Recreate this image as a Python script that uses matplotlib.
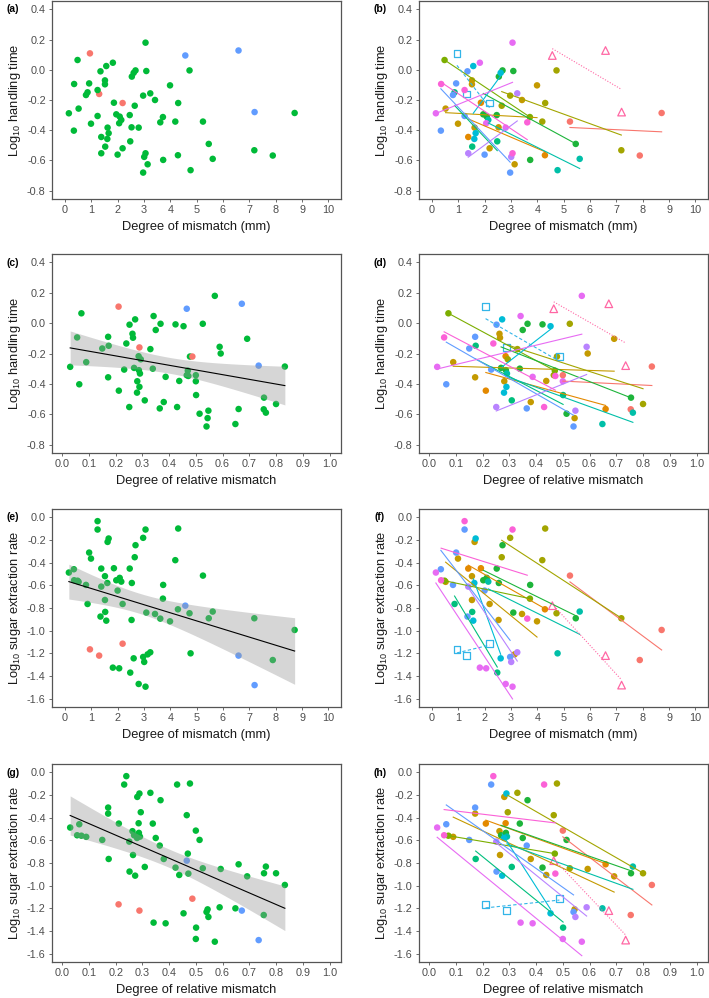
import numpy as np
import matplotlib
matplotlib.use('Agg')
import matplotlib.pyplot as plt
from matplotlib.ticker import MultipleLocator, FormatStrFormatter

plt.rcParams['font.family'] = ['Liberation Sans', 'DejaVu Sans']
plt.rcParams['mathtext.default'] = 'regular'

# species of every observation (J = squares, O = triangles)
species = (['A'] * 3 + ['B'] * 3 + ['C'] * 10 + ['D'] * 6 + ['E'] * 2 +
           ['F'] * 8 + ['G'] * 3 + ['H'] * 3 + ['I'] * 4 + ['J'] * 3 +
           ['K'] * 7 + ['L'] * 3 + ['M'] * 5 + ['N'] * 4 + ['O'] * 3)

# degree of mismatch (mm)
mismatch = [5.24, 7.89, 8.72,
            1.38, 1.86, 4.29,
            0.52, 0.99, 1.52, 1.52, 1.62, 2.19, 2.53, 3.14, 3.42, 3.99,
            2.65, 2.97, 4.19, 4.30, 4.73, 7.19,
            0.48, 3.72,
            1.95, 2.08, 2.46, 2.54, 2.68, 3.09, 3.73, 5.46,
            0.86, 1.53, 2.48,
            2.14, 4.77, 5.61,
            1.57, 1.61, 1.66, 2.61,
            0.95, 1.30, 2.19,
            0.34, 0.80, 0.92, 1.24, 1.35, 2.00, 2.97,
            1.38, 3.01, 3.24,
            0.15, 1.82, 2.06, 2.80, 3.06,
            0.35, 1.24, 3.06, 3.62,
            4.57, 6.59, 7.20]

# degree of relative mismatch
rel_mismatch = [0.500, 0.754, 0.833,
                0.212, 0.286, 0.660,
                0.090, 0.172, 0.263, 0.265, 0.281, 0.380, 0.438, 0.544, 0.593, 0.692,
                0.294, 0.330, 0.466, 0.478, 0.526, 0.800,
                0.072, 0.470,
                0.269, 0.287, 0.339, 0.350, 0.368, 0.424, 0.514, 0.755,
                0.174, 0.309, 0.501,
                0.291, 0.648, 0.762,
                0.273, 0.280, 0.289, 0.454,
                0.211, 0.289, 0.487,
                0.064, 0.150, 0.172, 0.232, 0.252, 0.365, 0.540,
                0.251, 0.547, 0.589,
                0.030, 0.342, 0.387, 0.500, 0.571,
                0.056, 0.240, 0.430, 0.472,
                0.466, 0.672, 0.735]

# log10 handling time
log_ht = [-0.343, -0.568, -0.286,
          -0.445, -0.218, -0.566,
          -0.257, -0.357, -0.070, -0.096, -0.383, -0.520, -0.381, -0.626, -0.200, -0.103,
          -0.238, -0.171, -0.343, -0.220, -0.004, -0.533,
          0.065, -0.313,
          -0.295, -0.310, -0.300, -0.045, -0.004, -0.008, -0.597, -0.491,
          -0.149, -0.509, -0.474,
          -0.332, -0.665, -0.590,
          0.025, -0.458, -0.420, -0.020,
          0.109, -0.160, -0.220,
          -0.403, -0.167, -0.090, -0.306, -0.010, -0.562, -0.681,
          -0.553, -0.577, -0.156,
          -0.288, 0.047, -0.354, -0.383, 0.180,
          -0.094, -0.134, -0.553, -0.348,
          0.095, 0.128, -0.280]

# log10 sugar extraction rate
log_ser = [-0.515, -1.259, -0.994,
           -0.453, -0.450, -0.812,
           -0.570, -0.365, -0.520, -0.730, -0.218, -0.765, -0.906, -1.209, -0.853, -0.918,
           -0.353, -0.182, -0.379, -0.100, -0.847, -0.891,
           -0.560, -0.718,
           -0.556, -0.535, -0.453, -0.580, -0.247, -0.841, -0.597, -0.891,
           -0.765, -0.835, -1.370,
           -0.568, -1.200, -0.832,
           -0.912, -0.580, -0.188, -1.244,
           -1.165, -1.220, -1.115,
           -0.459, -0.597, -0.312, -0.109, -0.876, -0.647, -1.232,
           -0.612, -1.276, -1.191,
           -0.488, -1.326, -1.332, -1.470, -1.494,
           -0.556, -0.035, -0.109, -0.894,
           -0.780, -1.220, -1.480]

species_colors = {'A': '#F8766D', 'B': '#E38900', 'C': '#C49A00', 'D': '#A3A500',
                  'E': '#7CAE00', 'F': '#1DB43A', 'G': '#00BF7D', 'H': '#00BFA8',
                  'I': '#00BCD6', 'J': '#33B5E8', 'K': '#619CFF', 'L': '#B983FF',
                  'M': '#E76BF3', 'N': '#FB61D7', 'O': '#FF67A4'}
group_colors = {'J': '#F8766D', 'O': '#619CFF'}
default_group_color = '#00BA38'

species = np.array(species)
mismatch = np.array(mismatch)
rel_mismatch = np.array(rel_mismatch)
log_ht = np.array(log_ht)
log_ser = np.array(log_ser)

W, H = 709, 998
fig = plt.figure(figsize=(W / 100, H / 100), dpi=100)

# pixel boxes of the panels: (top, bottom) rows and (left, right) columns
rows_px = [(1, 199), (254, 453), (509, 707), (764, 962)]
cols_px = [(52, 341), (419, 708)]

xlab_mm = 'Degree of mismatch (mm)'
xlab_rel = 'Degree of relative mismatch'
ylab_ht = 'Log$_{10}$ handling time'
ylab_ser = 'Log$_{10}$ sugar extraction rate'

panels = [
    ('(a)', mismatch, log_ht, 'mm', 'ht', 'group', False),
    ('(b)', mismatch, log_ht, 'mm', 'ht', 'species', False),
    ('(c)', rel_mismatch, log_ht, 'rel', 'ht', 'group', True),
    ('(d)', rel_mismatch, log_ht, 'rel', 'ht', 'species', False),
    ('(e)', mismatch, log_ser, 'mm', 'ser', 'group', True),
    ('(f)', mismatch, log_ser, 'mm', 'ser', 'species', False),
    ('(g)', rel_mismatch, log_ser, 'rel', 'ser', 'group', True),
    ('(h)', rel_mismatch, log_ser, 'rel', 'ser', 'species', False),
]

T975 = 1.997  # t quantile, df = 65


def add_fit(ax, x, y):
    n = len(x)
    b, a = np.polyfit(x, y, 1)
    resid = y - (a + b * x)
    s = np.sqrt(np.sum(resid ** 2) / (n - 2))
    sxx = np.sum((x - x.mean()) ** 2)
    xs = np.linspace(x.min(), x.max(), 100)
    ys = a + b * xs
    se = s * np.sqrt(1.0 / n + (xs - x.mean()) ** 2 / sxx)
    ax.fill_between(xs, ys - T975 * se, ys + T975 * se, color='#999999',
                    alpha=0.4, lw=0, zorder=3)
    ax.plot(xs, ys, color='black', lw=0.8, zorder=4)


def line_style(sp):
    if sp == 'J':
        return (0, (3, 2))
    if sp == 'O':
        return (0, (1, 1.5))
    return '-'


for i, (lab, x, y, xk, yk, mode, fit) in enumerate(panels):
    r, c = divmod(i, 2)
    l, rt = cols_px[c]
    t, bt = rows_px[r]
    ax = fig.add_axes([l / W, 1 - bt / H, (rt - l) / W, (bt - t) / H])

    if mode == 'group':
        cols = [group_colors.get(s, default_group_color) for s in species]
        ax.scatter(x, y, s=22, c=cols, edgecolors='none', zorder=2)
        if fit:
            add_fit(ax, x, y)
    else:
        for sp in species_colors:
            m = species == sp
            col = species_colors[sp]
            if sp == 'J':
                ax.scatter(x[m], y[m], s=24, marker='s', facecolors='none',
                           edgecolors=col, linewidths=0.9, zorder=2)
            elif sp == 'O':
                ax.scatter(x[m], y[m], s=30, marker='^', facecolors='none',
                           edgecolors=col, linewidths=0.9, zorder=2)
            else:
                ax.scatter(x[m], y[m], s=22, c=col, edgecolors='none', zorder=2)
        # per-species regression lines
        for sp in species_colors:
            m = species == sp
            if m.sum() < 2:
                continue
            b, a = np.polyfit(x[m], y[m], 1)
            xs = np.array([x[m].min(), x[m].max()])
            ax.plot(xs, a + b * xs, color=species_colors[sp], lw=0.8,
                    ls=line_style(sp), zorder=3)

    if xk == 'mm':
        ax.set_xlim(-0.49, 10.48)
        ax.xaxis.set_major_locator(MultipleLocator(1))
        ax.xaxis.set_major_formatter(FormatStrFormatter('%d'))
        ax.set_xlabel(xlab_mm, fontsize=9.3, labelpad=4, color='#1A1A1A')
    else:
        ax.set_xlim(-0.038, 1.043)
        ax.xaxis.set_major_locator(MultipleLocator(0.1))
        ax.xaxis.set_major_formatter(FormatStrFormatter('%.1f'))
        ax.set_xlabel(xlab_rel, fontsize=9.3, labelpad=4, color='#1A1A1A')

    if yk == 'ht':
        ax.set_ylim(-0.856, 0.456)
        ax.set_ylabel(ylab_ht, fontsize=9.3, labelpad=3, color='#1A1A1A')
    else:
        ax.set_ylim(-1.673, 0.072)
        ax.set_ylabel(ylab_ser, fontsize=9.3, labelpad=3, color='#1A1A1A')
    ax.yaxis.set_major_locator(MultipleLocator(0.2))
    ax.yaxis.set_major_formatter(FormatStrFormatter('%.1f'))

    for sp_ in ax.spines.values():
        sp_.set_color('#555555')
        sp_.set_linewidth(0.9)
    ax.tick_params(direction='out', length=2.5, width=0.6, color='#555555',
                   labelcolor='#4D4D4D', labelsize=7.8, pad=2)

    ax.annotate(lab, xy=(0, 1), xycoords='axes fraction',
                xytext=(-39 * 0.72, -8.5 * 0.72), textcoords='offset points',
                ha='center', va='center', fontsize=7.5, fontweight='bold')

fig.savefig('out.png', dpi=100)
